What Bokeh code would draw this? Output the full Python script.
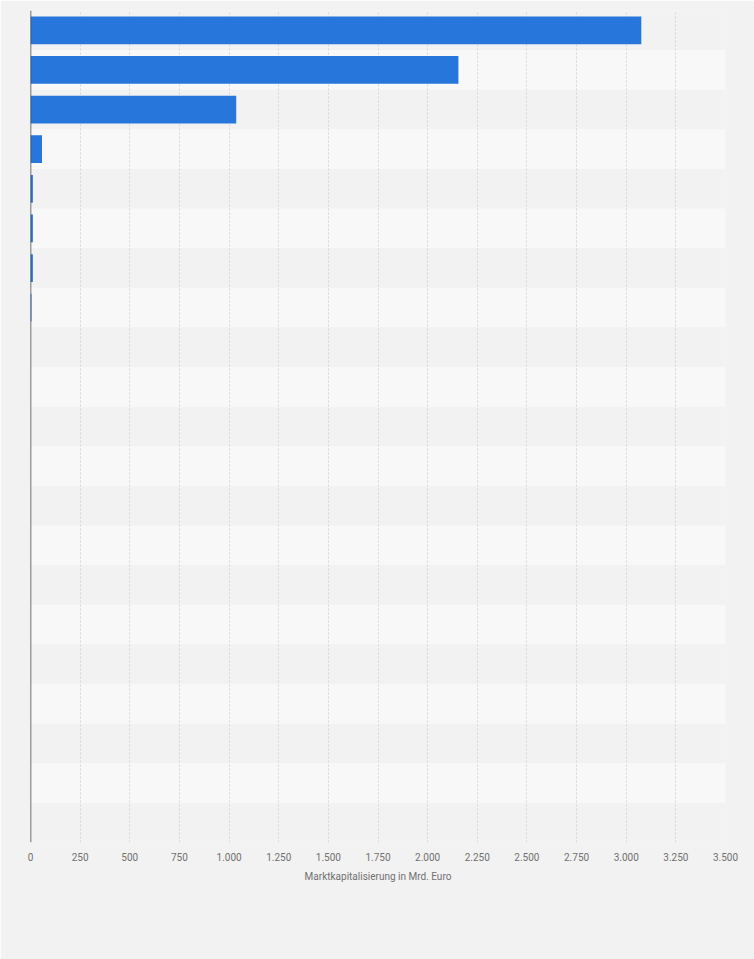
import re
from bokeh.plotting import figure
from bokeh.models import FactorRange, Range1d, FixedTicker, Span, ColumnDataSource
from bokeh.embed import file_html
from bokeh.resources import INLINE

# Data (no category labels are shown in the reference)
categories = ["A", "B", "C", "D", "E", "F", "G", "H", "I", "J", "K",
              "L", "M", "N", "O", "P", "Q", "R", "S", "T", "U"]
values = [3076, 2155, 1036, 58, 12, 12, 12, 5, 0, 0, 0,
          0, 0, 0, 0, 0, 0, 0, 0, 0, 0]
tick_values = [0, 250, 500, 750, 1000, 1250, 1500, 1750, 2000, 2250, 2500, 2750, 3000, 3250, 3500]
tick_labels = ["0", "250", "500", "750", "1.000", "1.250", "1.500", "1.750", "2.000",
               "2.250", "2.500", "2.750", "3.000", "3.250", "3.500"]
x_label = "Marktkapitalisierung in Mrd. Euro"

BG = "#f2f2f2"
BAND_LIGHT = "#f8f8f8"
BAR = "#2776dc"
TXT = "#707070"
FONT = "Roboto"

p = figure(width=754, height=959, output_backend="svg", toolbar_location=None,
           y_range=FactorRange(*list(reversed(categories)), range_padding=0),
           x_range=Range1d(0, tick_values[-1]),
           min_border_left=30, min_border_right=29, min_border_top=10, min_border_bottom=117)
p.background_fill_color = BG
p.border_fill_color = BG
p.outline_line_color = None

band_colors = [BG if i % 2 == 0 else BAND_LIGHT for i in range(len(categories))]
band_src = ColumnDataSource(dict(y=categories, c=band_colors))
bands = p.hbar(y="y", left=0, right=tick_values[-1], height=1.0, source=band_src,
               fill_color="c", line_color=None)
bands.level = "image"

src = ColumnDataSource(dict(y=categories, v=values))
p.hbar(y="y", left=0, right="v", height=0.7, source=src,
       fill_color=BAR, line_color=None)

p.yaxis.visible = False
p.ygrid.grid_line_color = None

p.xgrid.grid_line_color = "#d6d6d6"
p.xgrid.grid_line_dash = "2 2"
p.xgrid.grid_line_width = 1
p.xgrid.ticker = FixedTicker(ticks=tick_values[1:])

xa = p.xaxis[0]
xa.ticker = FixedTicker(ticks=tick_values)
xa.major_label_overrides = {t: l for t, l in zip(tick_values, tick_labels)}
xa.axis_line_color = None
xa.major_tick_line_color = None
xa.minor_tick_line_color = None
xa.major_label_standoff = 4
xa.major_label_text_font = FONT
xa.major_label_text_font_size = "10px"
xa.major_label_text_color = TXT
xa.axis_label = x_label
xa.axis_label_text_font = FONT
xa.axis_label_text_font_size = "10px"
xa.axis_label_text_font_style = "normal"
xa.axis_label_text_color = TXT
xa.axis_label_standoff = 7

p.add_layout(Span(location=0, dimension="height", line_color="#444444", line_width=1.5))

html = file_html(p, INLINE)
html = re.sub(r"<body([^>]*)>", r'<body\1 style="margin:0;background:#f2f2f2;">', html, count=1)
open("out.html", "w").write(html)
